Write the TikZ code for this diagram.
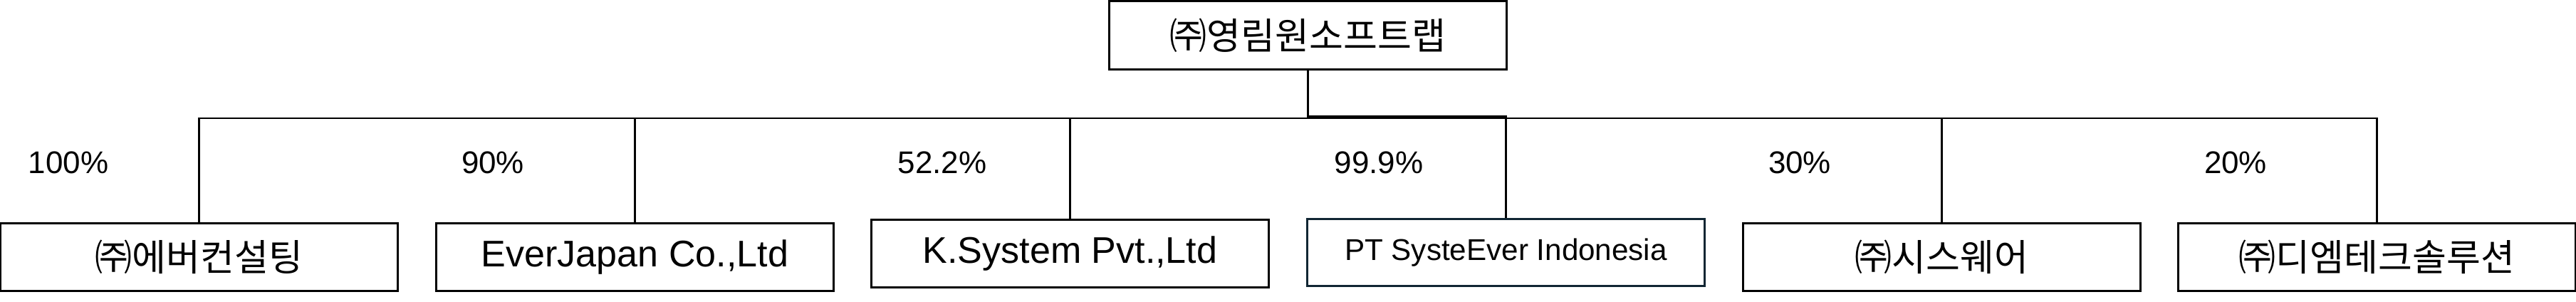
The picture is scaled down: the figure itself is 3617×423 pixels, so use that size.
\documentclass[tikz,border=0pt]{standalone}
\usepackage{fontspec}
\setmainfont{Liberation Sans}
\newfontfamily\kr{Noto Sans CJK KR}
\definecolor{ptnavy}{RGB}{17,38,51}

\tikzset{
  firm/.style={draw=black, line width=0.85pt, minimum width=5.57cm, minimum height=0.94cm,
    inner sep=0pt, font=\fontsize{14.8}{16}\selectfont},
  korfirm/.style={firm, font=\kr\fontsize{14.8}{16}\selectfont},
  share/.style={font=\fontsize{12.5}{14}\selectfont},
  link/.style={black, line width=0.6pt},
}

\begin{document}
\begin{tikzpicture}[x=0.01cm, y=-0.01cm]
    \useasboundingbox (0,0) rectangle (3617,423);

    \node[korfirm, minimum height=0.95cm] (yr) at (1836.5,49.5) {㈜영림원소프트랩};

    \node[korfirm] (c1) at (279.5,361) {㈜에버컨설팅};
    \node[firm] (c2) at (891.5,361) {EverJapan Co.,Ltd};
    \node[firm] (c3) at (1502.5,356) {K.System Pvt.,Ltd};
    \node[firm, draw=ptnavy, font=\fontsize{12}{14}\selectfont] (c4) at (2114.5,354.5) {PT SysteEver Indonesia};
    \node[korfirm] (c5) at (2726.5,361) {㈜시스웨어};
    \node[korfirm] (c6) at (3337.5,361) {㈜디엠테크솔루션};

    \node[share] (p1) at (96,228) {100\%};
    \node[share] (p2) at (692,228) {90\%};
    \node[share] (p3) at (1323,228) {52.2\%};
    \node[share] (p4) at (1936,228) {99.9\%};
    \node[share] (p5) at (2527,228) {30\%};
    \node[share] (p6) at (3139,228) {20\%};

    \coordinate (bus) at (0,166);
    \coordinate (ptbus) at (0,163);

    \draw[link] (yr.south) -- (yr.south |- bus) -| (c1.north);
    \draw[link] (yr.south) -- (yr.south |- bus) -| (c2.north);
    \draw[link] (yr.south) -- (yr.south |- bus) -| (c3.north);
    \draw[link, line width=0.85pt] (yr.south) -- (yr.south |- ptbus) -| (c4.north);
    \draw[link] (yr.south) -- (yr.south |- bus) -| (c5.north);
    \draw[link] (yr.south) -- (yr.south |- bus) -| (c6.north);

\end{tikzpicture}
\end{document}
